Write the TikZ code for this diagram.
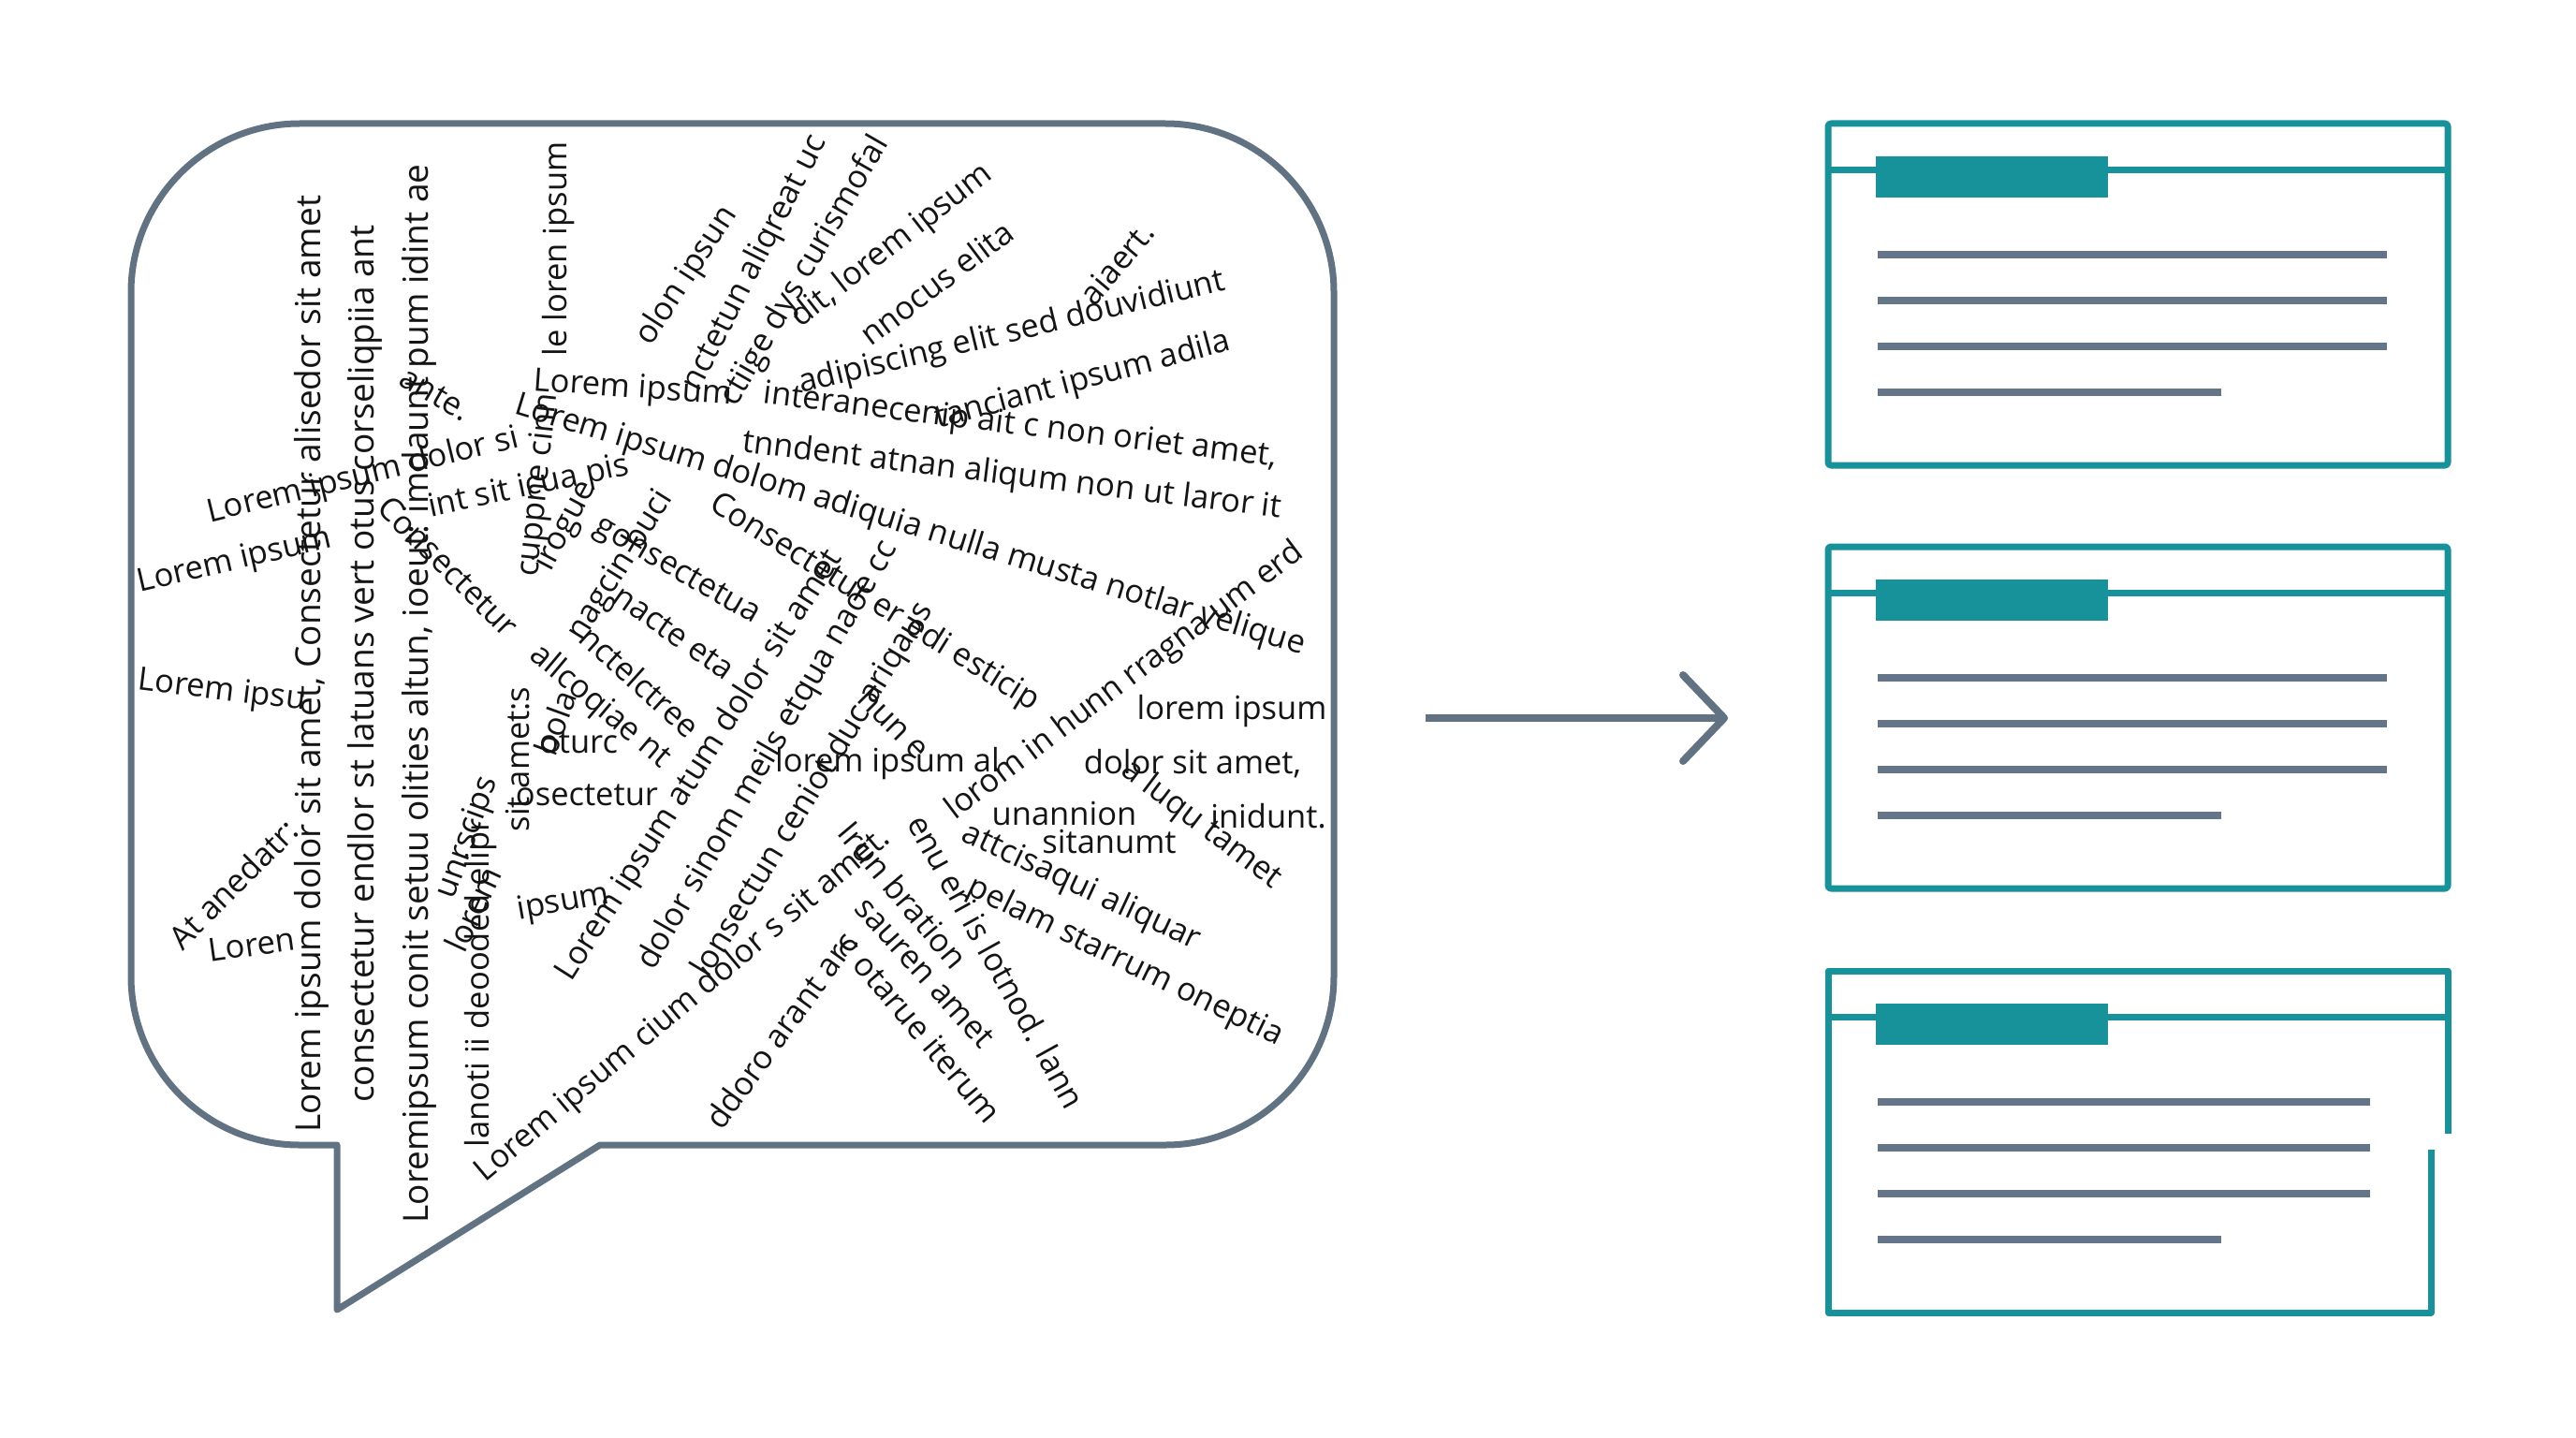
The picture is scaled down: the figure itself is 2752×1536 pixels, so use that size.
\documentclass[tikz,border=0pt]{standalone}
\usepackage{fontspec}
\setmainfont{Open Sans}
\usetikzlibrary{arrows.meta}
\definecolor{slate}{HTML}{617282}
\definecolor{tealc}{HTML}{17929A}
\definecolor{barline}{HTML}{64758A}
\definecolor{ink}{HTML}{141414}
\begin{document}
\begin{tikzpicture}[x=1pt,y=-1pt,
  jt/.style={font=\fontsize{34.5}{40}\selectfont, text=ink, inner sep=0pt},
  jcol/.style={font=\fontsize{37}{42}\selectfont, text=ink, inner sep=0pt},
  bubble/.style={draw=slate, line width=7pt, line join=round},
  card/.style={draw=tealc, line width=7pt, line join=round},
  tab/.style={fill=tealc},
  txtline/.style={draw=barline, line width=8pt},
  flow/.style={draw=slate, line width=8pt, -{Straight Barb[length=44pt,width=92pt,line cap=round,line join=round]}}]
\fill[white] (0,0) rectangle (2752,1536);
\useasboundingbox (0,0) rectangle (2752,1536);

% speech bubble
\draw[bubble] (360,1399) -- (360,1223) -- (320,1223)
  .. controls (221,1223) and (140,1142) .. (140,1043) -- (140,312)
  .. controls (140,213) and (221,132) .. (320,132) -- (1245,132)
  .. controls (1344,132) and (1425,213) .. (1425,312) -- (1425,1043)
  .. controls (1425,1142) and (1344,1223) .. (1245,1223) -- (641,1223) -- cycle;

% vertical columns
\node[jcol,rotate=90] (cA) at (333,709) {Lorem ipsum dolor sit amet, Consectetur alisedor sit amet};
\node[jcol,rotate=90] (cB) at (390,709) {consectetur endlor st latuans vert otus corseliqpiia ant};
\node[jcol,rotate=90] (cC) at (448,741) {Loremipsum conit setuu olities altun, ioeut: imdaunt pum idint ae};
\node[jt,rotate=90] (cD) at (597,266) {le loren ipsum};
\node[jt,rotate=90] (cE) at (514,1050) {lanoti ii deooded elipr};
\node[jt,rotate=90] (cE2) at (553,811) {sit amet:s};
\node[jt,rotate=84] (cF) at (576,518) {cuppne cinn};

% angled texts
\node[jt,rotate=13.7] (t1) at (388,509) {Lorem ipsum dolor si};
\node[jt,rotate=13] (t2) at (251,600) {Lorem ipsum};
\node[jt,rotate=-7] (t3) at (237,739) {Lorem ipsu};
\node[jt,rotate=45] (t4) at (249,944) {At anedatr:};
\node[jt,rotate=8] (t5) at (269,1009) {Loren};
\node[jt,rotate=-4] (t6) at (676,416) {Lorem ipsum};
\node[jt,rotate=-30] (t7) at (465,421) {ante.};
\node[jt,rotate=-17] (t8) at (972,562) {Lorem ipsum dolom adiquia nulla musta notlar velique};
\node[jt,rotate=-7] (t9) at (1090,456) {interanecenip ait c non oriet amet,};
\node[jt,rotate=-7] (t10) at (1081,509) {tnndent atnan aliqum non ut laror it};
\node[jt,rotate=13.6] (t11) at (1081,356) {adipiscing elit sed douvidiunt};
\node[jt,rotate=15] (t12) at (1157,407) {tanciant ipsum adila};
\node[jt,rotate=50] (t13) at (1193,281) {aiaert.};
\node[jt,rotate=37] (t14) at (1000,302) {nnocus elita};
\node[jt,rotate=38] (t15) at (953,263) {dit, lorem ipsum};
\node[jt,rotate=60] (t16) at (860,290) {ctiige dys curismofal};
\node[jt,rotate=63] (t17) at (807,281) {nctetun aliqreat uc};
\node[jt,rotate=57] (t18) at (734,295) {olon ipsun};
\node[jt,rotate=37] (t19) at (1202,728) {lorom in hunn rragna um erd};
\node[jt] (t20) at (1316,760) {lorem ipsum};
\node[jt] (t21) at (1274,816) {dolor sit amet,};
\node[jt] (t22) at (1137,869) {unannion};
\node[jt] (t23) at (1355,872) {inidunt.};
\node[jt,rotate=-37] (t24) at (1283,881) {a luqu tamet};
\node[jt] (t25) at (1185,899) {sitanumt};
\node[jt] (t26) at (948,816) {lorem ipsum al};
\node[jt,rotate=-26] (t27) at (1202,1028) {pelam starrum oneptia};
\node[jt,rotate=-25] (t28) at (1155,948) {attcisaqui aliquar};
\node[jt,rotate=-32] (t29) at (934,644) {Consectetur er edi esticip};
\node[jt,rotate=-30] (t30) at (723,611) {gonsectetua};
\node[jt,rotate=-35] (t31) at (720,676) {nacte eta};
\node[jt,rotate=-42] (t32) at (684,728) {nctelctree};
\node[jt,rotate=-45] (t33) at (479,605) {Consectetur};
\node[jt,rotate=-40] (t34) at (641,755) {allcoqiae nt};
\node[jt,rotate=12] (t35) at (565,521) {int sit icua pis};
\node[jt] (t36) at (627,849) {osectetur};
\node[jt] (t37) at (618,793) {oturc};
\node[jt,rotate=70] (t38) at (500,895) {unrscips};
\node[jt,rotate=10] (t39) at (602,965) {ipsum};
\node[jt,rotate=65] (t40) at (505,971) {lorem};
\node[jt,rotate=57.5] (t41) at (748,818) {Lorem ipsum atum dolor sit amet};
\node[jt,rotate=60] (t42) at (821,807) {dolor sinom meils etqua naoe cc};
\node[jt,rotate=40] (t43) at (730,1074) {Lorem ipsum cium dolor s sit amet.};
\node[jt,rotate=58.7] (t44) at (869,844) {lonsectun ceniot duc ariqaus};
\node[jt,rotate=54] (t45) at (834,1100) {ddoro arant arc};
\node[jt,rotate=-50] (t46) at (983,1099) {c otarue iterum};
\node[jt,rotate=-48] (t47) at (988,1039) {sauren amet};
\node[jt,rotate=-50] (t48) at (965,956) {Irun bration};
\node[jt,rotate=-61] (t49) at (1065,1027) {enu eri is lotnod. lann};
\node[jt,rotate=-45] (t50) at (956,772) {hun e};
\node[jt,rotate=70] (t51) at (593,772) {bola};
\node[jt,rotate=62] (t52) at (605,562) {irogue};
\node[jt,rotate=58] (t53) at (663,605) {nagcin buci};

% arrow
\coordinate (aS) at (1523,767);
\coordinate (aE) at (1846,767);
\draw[flow] (aS) -- (aE);

% cards
\foreach \t in {132,584} {
  \draw[card, rounded corners=3pt] (1953,\t) rectangle (2615,\t+365);
  \draw[card] (1953,\t+49) -- (2615,\t+49);
  \fill[tab] (2004,\t+35) rectangle (2252,\t+79);
  \draw[txtline] (2006,\t+140) -- (2550,\t+140);
  \draw[txtline] (2006,\t+189) -- (2550,\t+189);
  \draw[txtline] (2006,\t+238) -- (2550,\t+238);
  \draw[txtline] (2006,\t+287) -- (2373,\t+287);
}
\draw[card] (2597,1228) -- (2597,1402) -- (1953,1402) -- (1953,1037) -- (2615,1037) -- (2615,1211);
\draw[card] (1953,1086) -- (2615,1086);
\fill[tab] (2004,1072) rectangle (2252,1116);
\draw[txtline] (2006,1177) -- (2532,1177);
\draw[txtline] (2006,1226) -- (2532,1226);
\draw[txtline] (2006,1275) -- (2532,1275);
\draw[txtline] (2006,1324) -- (2373,1324);
\end{tikzpicture}
\end{document}
